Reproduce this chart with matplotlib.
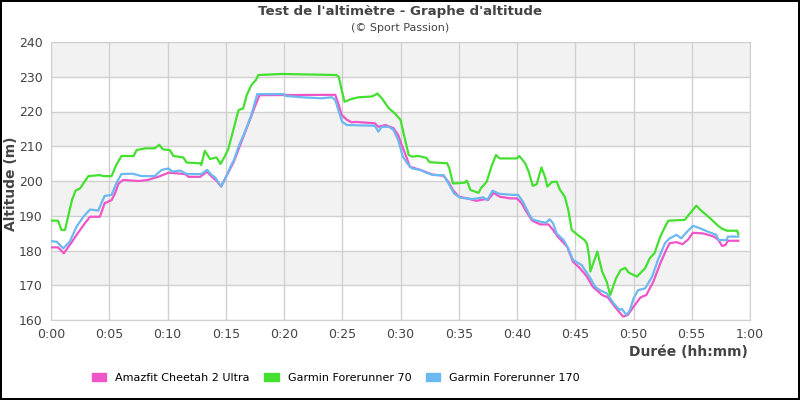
import matplotlib
matplotlib.use('Agg')
import matplotlib.pyplot as plt
from matplotlib.patches import Patch

# Amazfit Cheetah 2 Ultra
amazfit_t = [0, 0.6, 1.1, 1.8, 2.3, 2.9, 3.35, 4.2, 4.6, 5.2, 5.5, 5.8, 6.2, 7.5, 8.3, 9.2, 10.1, 11.5,
             11.8, 12.8, 13.4, 13.8, 14.2, 14.6, 15.1, 15.7, 16.4, 16.9, 17.5, 17.9, 24.4, 24.7, 24.95,
             25.4, 25.8, 26.2, 27.8, 28.1, 28.7, 29.4, 29.8, 30.1, 30.5, 30.8, 31.5, 32.1, 32.7, 33.7,
             34.1, 34.5, 35.0, 35.7, 36.5, 37.3, 37.5, 38.0, 38.5, 39.4, 40.0, 40.4, 40.8, 41.3, 42.0,
             42.7, 43.1, 43.5, 44.3, 44.8, 45.4, 46.0, 46.5, 47.3, 47.8, 48.4, 49.1, 49.5, 50.0, 50.6,
             51.1, 51.7, 52.3, 52.8, 53.1, 53.7, 54.2, 54.7, 55.1, 56.0, 56.9, 57.3, 57.6, 57.9, 58.1, 59.0]
amazfit_alt = [180.9, 180.9, 179.2, 182.5, 185.0, 187.8, 189.7, 189.7, 193.6, 194.5, 196.5, 199.3, 200.3,
               200.0, 200.3, 201.2, 202.4, 202.0, 201.2, 201.2, 202.7, 201.2, 200.1, 198.4, 201.7, 205.6,
               211.8, 216.1, 221.4, 224.7, 224.8, 221.9, 219.0, 217.6, 216.9, 217.0, 216.6, 215.6, 216.1,
               215.2, 213.2, 210.4, 207.0, 204.1, 203.4, 202.7, 201.9, 201.5, 199.8, 197.4, 195.5, 195.0,
               194.3, 194.8, 194.5, 196.6, 195.5, 195.0, 195.0, 193.6, 191.2, 188.6, 187.5, 187.5, 185.9,
               184.0, 181.1, 176.8, 174.9, 172.5, 169.6, 167.2, 166.5, 163.8, 161.0, 161.4, 163.8, 166.5,
               167.2, 171.0, 176.3, 180.1, 182.1, 182.4, 181.8, 183.2, 185.1, 184.9, 184.0, 183.0, 181.3,
               181.6, 182.8, 182.8]

# Garmin Forerunner 70
fr70_t = [0, 0.6, 0.9, 1.2, 1.5, 1.8, 2.1, 2.5, 3.2, 4.2, 4.5, 5.2, 5.6, 6.05, 7.1, 7.35, 8.1, 8.9, 9.3,
          9.6, 10.2, 10.5, 11.35, 11.65, 12.8, 12.9, 13.2, 13.65, 14.2, 14.55, 14.9, 15.2, 15.5, 15.8,
          16.1, 16.5, 16.8, 17.2, 17.6, 17.8, 19.8, 24.5, 24.7, 24.95, 25.2, 25.7, 26.4, 27.5, 27.8,
          28.0, 28.4, 29.0, 29.5, 30.0, 30.4, 30.7, 31.0, 31.5, 32.2, 32.5, 34.0, 34.2, 34.5, 35.5,
          35.7, 36.0, 36.7, 36.9, 37.4, 37.8, 38.2, 38.5, 40.0, 40.2, 40.7, 41.0, 41.35, 41.7, 42.1,
          42.4, 42.6, 43.0, 43.4, 43.7, 44.1, 44.4, 44.7, 45.2, 45.8, 46.0, 46.2, 46.3, 46.9, 47.3,
          47.7, 48.0, 48.5, 48.9, 49.3, 49.6, 50.3, 51.0, 51.4, 51.8, 52.3, 52.7, 53.0, 54.4, 54.8,
          55.4, 55.7, 56.6, 57.3, 57.6, 58.0, 58.9, 59.0]
fr70_alt = [188.6, 188.6, 185.9, 185.9, 190.2, 194.5, 197.2, 197.9, 201.4, 201.7, 201.4, 201.4, 204.6,
            207.2, 207.2, 208.9, 209.4, 209.4, 210.4, 209.1, 208.9, 207.2, 206.8, 205.3, 205.1, 204.6,
            208.7, 206.3, 206.8, 204.9, 207.0, 209.0, 212.8, 216.6, 220.4, 220.9, 224.7, 227.6, 229.1,
            230.5, 230.8, 230.5, 230.0, 226.2, 222.8, 223.5, 224.1, 224.3, 224.7, 225.2, 223.8, 220.9,
            219.5, 217.6, 211.8, 207.5, 207.0, 207.2, 206.7, 205.4, 205.1, 203.6, 199.3, 199.5, 200.1,
            197.4, 196.6, 197.9, 199.8, 204.1, 207.5, 206.5, 206.5, 207.2, 205.1, 202.7, 198.6, 199.1,
            203.9, 201.2, 198.4, 199.7, 199.8, 197.4, 195.5, 191.7, 185.9, 184.5, 183.0, 182.0, 178.2,
            174.0, 179.7, 174.0, 171.0, 167.2, 172.0, 174.4, 175.0, 173.6, 172.5, 174.9, 177.8, 179.2,
            184.0, 186.8, 188.6, 188.8, 190.5, 192.9, 191.8, 189.2, 187.0, 186.3, 185.7, 185.7, 184.7]

# Garmin Forerunner 170
fr170_t = [0, 0.5, 1.05, 1.6, 2.2, 2.8, 3.35, 4.05, 4.6, 5.2, 5.6, 6.05, 7.0, 7.8, 8.9, 9.5, 10.1, 10.4,
           11.1, 11.65, 12.9, 13.4, 13.8, 14.1, 14.6, 15.1, 15.4, 15.7, 16.1, 16.65, 17.2, 17.7, 20.0,
           20.1, 21.5, 23.2, 24.1, 24.4, 24.7, 25.0, 25.4, 27.8, 28.1, 28.4, 29.0, 29.4, 29.8, 30.2,
           30.6, 31.0, 31.7, 32.2, 32.8, 33.7, 34.2, 34.6, 35.1, 36.2, 37.1, 37.45, 37.9, 38.5, 39.7,
           40.1, 40.5, 41.0, 41.3, 42.0, 42.5, 42.8, 43.1, 43.4, 44.0, 44.4, 44.8, 45.55, 46.3, 46.7,
           47.1, 47.7, 48.3, 48.8, 49.0, 49.4, 49.7, 50.0, 50.4, 51.0, 51.6, 52.1, 52.7, 53.1, 53.7,
           54.1, 54.6, 55.1, 55.7, 56.4, 57.1, 57.3, 58.0, 58.1, 59.0]
fr170_alt = [182.7, 182.5, 180.6, 182.5, 186.9, 189.8, 191.8, 191.5, 195.7, 196.0, 199.3, 202.0, 202.1,
             201.4, 201.4, 203.2, 203.6, 202.7, 203.0, 202.0, 202.0, 203.2, 201.7, 201.0, 198.4, 201.7,
             204.1, 206.0, 209.9, 214.2, 219.0, 225.0, 225.0, 224.5, 224.1, 223.8, 224.1, 223.3, 220.0,
             217.0, 216.1, 215.9, 214.2, 215.6, 215.6, 214.7, 211.8, 207.0, 205.0, 203.6, 203.2, 202.4,
             201.7, 201.7, 198.8, 196.4, 195.2, 194.8, 195.3, 194.5, 197.2, 196.3, 196.0, 196.0, 194.1,
             190.7, 189.0, 188.3, 188.0, 189.0, 187.8, 184.9, 183.0, 180.6, 177.3, 175.8, 172.0, 169.6,
             168.6, 167.7, 164.8, 162.9, 163.2, 161.4, 162.9, 166.2, 168.6, 169.1, 172.5, 177.3, 182.1,
             183.5, 184.5, 183.5, 185.4, 187.1, 186.4, 185.4, 184.5, 183.0, 183.0, 184.0, 184.0]

series = ['Amazfit Cheetah 2 Ultra', 'Garmin Forerunner 70', 'Garmin Forerunner 170']
colors = ['#f055c8', '#44e030', '#6cb8f0']
x_ticks = list(range(0, 61, 5))
x_labels = ['0:00', '0:05', '0:10', '0:15', '0:20', '0:25', '0:30', '0:35', '0:40', '0:45', '0:50', '0:55', '1:00']
y_ticks = list(range(160, 241, 10))

fig = plt.figure(figsize=(8, 4), dpi=100, edgecolor='black', linewidth=1.5)
ax = fig.add_axes([51/800, 80/400, 699/800, 278/400])

# bandes grises alternées
for lo in range(170, 240, 20):
    ax.axhspan(lo, lo + 10, color='#f2f2f2', zorder=0, lw=0)

data = [(amazfit_t, amazfit_alt), (fr70_t, fr70_alt), (fr170_t, fr170_alt)]
for (t, alt), c in zip(data, colors):
    ax.plot(t, alt, color=c, lw=1.6, zorder=3)

ax.set_xlim(0, 60)
ax.set_ylim(160, 240)
ax.set_xticks(x_ticks)
ax.set_xticklabels(x_labels)
ax.set_yticks(y_ticks)
ax.grid(True, color='#d0d0d0', lw=1, zorder=1)
ax.set_axisbelow(True)
ax.tick_params(length=0, labelsize=9, colors='#444444', pad=6)
for s in ax.spines.values():
    s.set_color('#d0d0d0')

fig.text(11/800, 1 - 184/400, 'Altitude (m)', rotation=90, ha='center', va='center',
         fontsize=10, fontweight='bold', color='#444444')
fig.text(748/800, 1 - 352/400, 'Durée (hh:mm)', ha='right', va='center',
         fontsize=10, fontweight='bold', color='#444444')

fig.text(0.5, 1 - 11/400, "Test de l'altimètre - Graphe d'altitude", ha='center', va='center',
         fontsize=9.6, fontweight='bold', color='#444444')
fig.text(0.5, 1 - 28/400, '(© Sport Passion)', ha='center', va='center',
         fontsize=8, color='#444444')

handles = [Patch(facecolor=c, edgecolor=c, label=n) for n, c in zip(series, colors)]
fig.legend(handles=handles, loc='center left', bbox_to_anchor=(82/800, 1 - 378/400), ncol=3,
           frameon=False, fontsize=8, handlelength=1.3, handleheight=0.8,
           handletextpad=0.8, columnspacing=1.3)

fig.savefig('out.png', dpi=100)
